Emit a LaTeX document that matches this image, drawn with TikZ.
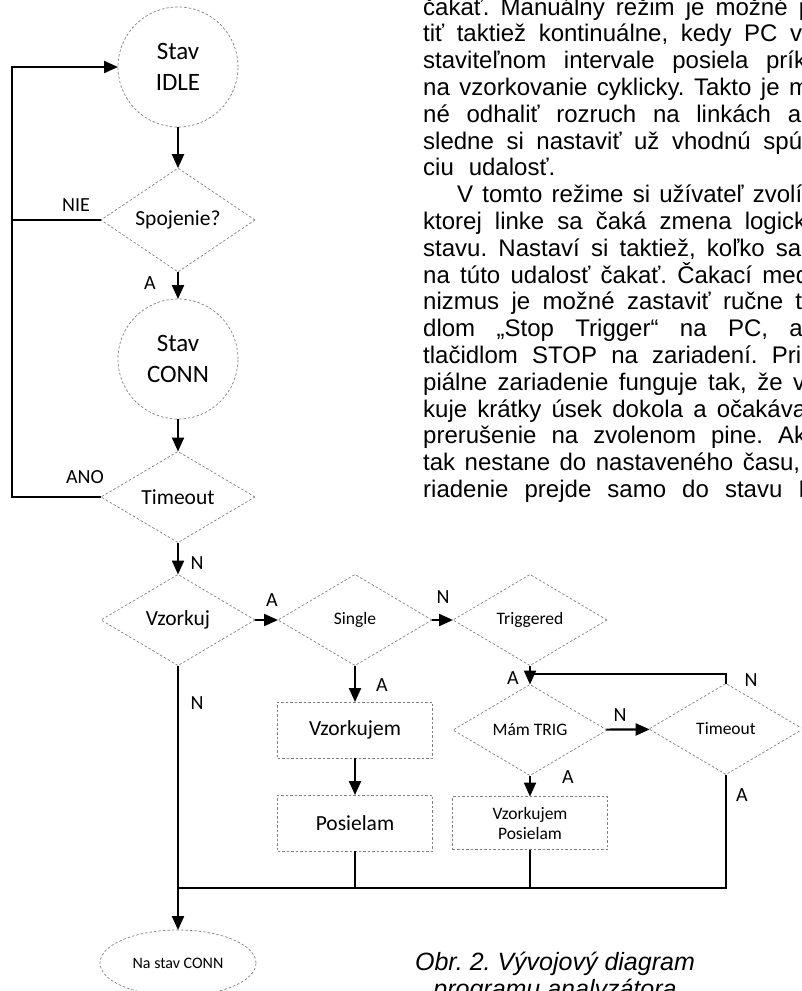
\documentclass[tikz,border=0pt]{standalone}
\usepackage{fontspec}
\setmainfont{Liberation Sans}
\newfontfamily\diafont{Carlito}
\frenchspacing
\usetikzlibrary{arrows.meta,shapes.geometric}

\tikzset{
  outline/.style={draw=black!50, line width=0.7pt, dash pattern=on 2.5pt off 2pt,
    inner sep=0pt, outer sep=0pt, align=center, font=\diafont\fontsize{21.5}{25}\selectfont},
  state/.style={outline, circle, minimum size=120pt, font=\diafont\fontsize{25}{31}\selectfont},
  decide/.style={outline, diamond, minimum width=154pt, minimum height=91pt},
  task/.style={outline, rectangle, minimum width=155pt, minimum height=56pt},
  small/.style={font=\diafont\fontsize{17.5}{20}\selectfont},
  flow/.style={line width=2.2pt, -{Triangle[length=14pt,width=12pt]}},
  wire/.style={line width=2.2pt},
  lbl/.style={font=\diafont\fontsize{20}{20}\selectfont, inner sep=0pt},
  para/.style={anchor=base west, inner sep=0pt, font=\fontsize{24}{26.8}\selectfont},
}

\begin{document}
\begin{tikzpicture}[x=1pt, y=-1pt]
  \useasboundingbox (0,0) rectangle (801,991);
  \clip (0,0) rectangle (801,991);

  % text column beside the chart
  \foreach \x/\w/\t [count=\k] in {
    423/389/{čakať. Manuálny režim je možné p},
    423/379/{tiť taktiež kontinuálne, kedy PC v},
    423/383/{staviteľnom intervale posiela prík},
    423/386/{na vzorkovanie cyklicky. Takto je m},
    423/378/{né odhaliť rozruch na linkách a},
    423/379/{sledne si nastaviť už vhodnú spú},
    423/132/{ciu udalosť.},
    457/345/{V tomto režime si užívateľ zvolí},
    423/383/{ktorej linke sa čaká zmena logick},
    423/378/{stavu. Nastaví si taktiež, koľko sa},
    423/386/{na túto udalosť čakať. Čakací med},
    423/379/{nizmus je možné zastaviť ručne t},
    423/385/{dlom „Stop Trigger“ na PC, al},
    423/378/{tlačidlom STOP na zariadení. Pri},
    423/382/{piálne zariadenie funguje tak, že v},
    423/383/{kuje krátky úsek dokola a očakáva},
    423/383/{prerušenie na zvolenom pine. Ak},
    423/377/{tak nestane do nastaveného času,},
    423/382/{riadenie prejde samo do stavu I}}
    \node[para] (txt\k) at (\x,{15+(\k-1)*26.8}) {\makebox[\w pt][s]{\t}};

  % states and decisions
  \node[state] (idle) at (178,67) {Stav\\IDLE};
  \node[decide] (spoj) at (178,220) {Spojenie?};
  \node[state] (conn) at (178,359) {Stav\\CONN};
  \node[decide] (tout) at (178,497) {Timeout};
  \node[decide] (vzork) at (178,620) {Vzorkuj};
  \node[decide, small] (single) at (355,620) {Single};
  \node[decide, small] (trig) at (530,620) {Triggered};
  \node[task] (vzorkujem) at (355,730) {Vzorkujem};
  \node[task] (posiel) at (355,823) {Posielam};
  \node[decide, small] (mam) at (530,730) {Mám TRIG};
  \node[decide, small] (tout2) at (726,729) {Timeout};
  \node[task, small, minimum height=53pt] (vp) at (530,823) {Vzorkujem\\Posielam};
  \node[outline, ellipse, minimum width=156pt, minimum height=66pt,
    font=\diafont\fontsize{16}{18}\selectfont] (nastav) at (178,963) {Na stav CONN};

  \coordinate (lx) at (12,0);
  \coordinate (ring) at (0,674);
  \coordinate (bus) at (0,888);

  % main column
  \draw[flow] (idle) -- (spoj);
  \draw[flow] (spoj) -- (conn);
  \draw[flow] (conn) -- (tout);
  \draw[flow] (tout) -- (vzork);
  \draw[wire] (spoj.west) -- (lx |- spoj.west);
  \draw[flow] (tout.west) -- (lx |- tout.west) -- (lx |- idle.west) -- (idle.west);

  % sampling branches
  \draw[flow] (vzork) -- (single);
  \draw[flow] (single) -- (trig);
  \draw[flow] (single) -- (vzorkujem);
  \draw[flow] (vzorkujem) -- (posiel);
  \draw[flow] (trig) -- (mam);
  \draw[flow] (mam) -- (tout2);
  \draw[flow] (mam) -- (vp);
  \draw[wire] (tout2.north) -- (tout2.north |- ring) -- (mam.north |- ring);

  % back to CONN
  \draw[flow] (vzork.south) -- (nastav.north);
  \draw[wire] (vzork.south |- bus) -- (tout2.south |- bus) -- (tout2.south);
  \draw[wire] (posiel.south) -- (posiel.south |- bus);
  \draw[wire] (vp.south) -- (vp.south |- bus);

  % branch labels
  \node[lbl] (l-nie) at (76,205) {NIE};
  \node[lbl] (l-a1) at (150,283) {A};
  \node[lbl] (l-ano) at (85,477) {ANO};
  \node[lbl] (l-n1) at (197,563) {N};
  \node[lbl] (l-a2) at (272,600) {A};
  \node[lbl] (l-n2) at (197,703) {N};
  \node[lbl] (l-a3) at (382,685) {A};
  \node[lbl] (l-n3) at (443,597) {N};
  \node[lbl] (l-a4) at (513,678) {A};
  \node[lbl] (l-n4) at (620,715) {N};
  \node[lbl] (l-n5) at (751,680) {N};
  \node[lbl] (l-a5) at (568,777) {A};
  \node[lbl] (l-a6) at (742,795) {A};

  % caption
  \node[anchor=base, inner sep=0pt, font=\itshape\fontsize{25}{27}\selectfont] (cap1) at (555,970) {Obr. 2. Vývojový diagram};
  \node[anchor=base, inner sep=0pt, font=\itshape\fontsize{25}{27}\selectfont] (cap2) at (555,997) {programu analyzátora};
\end{tikzpicture}
\end{document}
